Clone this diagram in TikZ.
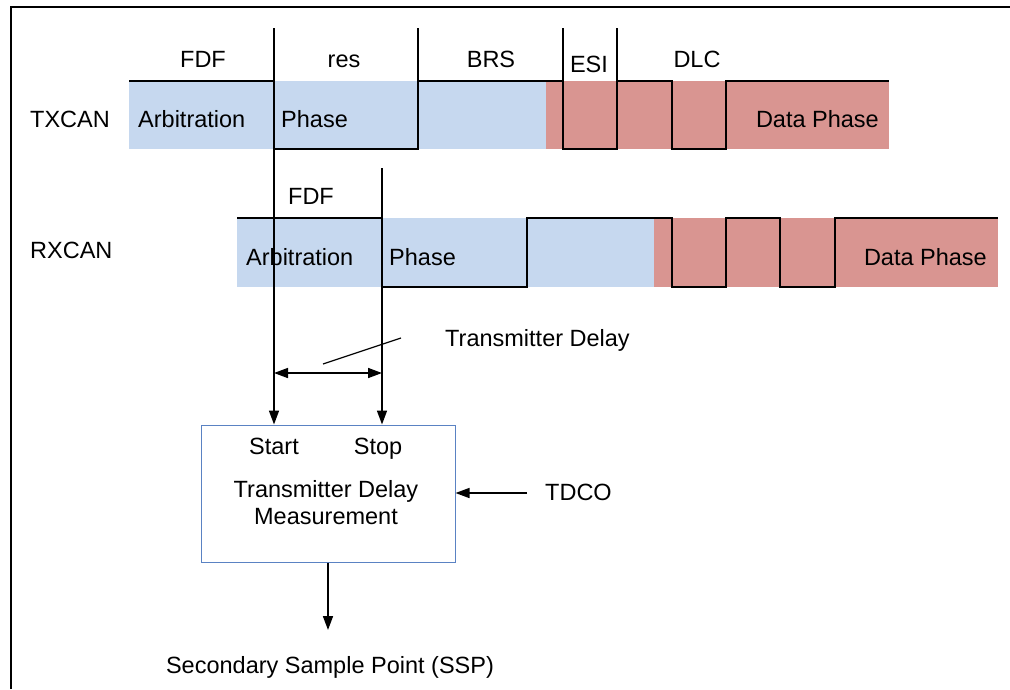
\documentclass[tikz,border=0pt]{standalone}
\usepackage{fontspec}
\setmainfont{Liberation Sans}
\usetikzlibrary{arrows.meta}
\definecolor{arbblue}{RGB}{198,216,239}
\definecolor{datared}{RGB}{217,149,145}
\definecolor{boxblue}{RGB}{90,130,195}

\begin{document}
\begin{tikzpicture}[x=1pt, y=-1pt, font=\fontsize{23.5}{28}\selectfont,
  sig/.style={line width=1.4pt},
  arr/.style={line width=1.6pt, -{Triangle[length=14pt,width=10pt]}},
  darr/.style={line width=1.6pt, {Triangle[length=14pt,width=10pt]}-{Triangle[length=14pt,width=10pt]}},
  lbl/.style={inner sep=0pt, anchor=base}]

 \useasboundingbox (0,0) rectangle (1010,689);
 \draw[line width=2.6pt] (11,689) -- (11,7) -- (1010,7);

 % TXCAN
 \fill[arbblue] (129,81) rectangle (546,149);
 \fill[datared] (546,81) rectangle (889,149);
 \draw[sig] (129,81) -- (274,81) -- (274,149) -- (418,149) -- (418,81) -- (563,81) -- (563,149)
   -- (617,149) -- (617,81) -- (672,81) -- (672,149) -- (726,149) -- (726,81) -- (889,81);
 \foreach \x in {418,563,617}
   \draw[sig] (\x,28) -- (\x,81);
 \foreach \x/\name/\y in {203/FDF/67, 344/res/67, 491/BRS/67, 589/ESI/72, 697/DLC/67}
   \node[lbl] (tx\name) at (\x,\y) {\name};

 \node[lbl, anchor=base west] (txcan) at (30,127) {TXCAN};
 \node[lbl, anchor=base west] (txarb) at (138,127) {Arbitration};
 \node[lbl, anchor=base west] (txphase) at (281,127) {Phase};
 \node[lbl, anchor=base east] (txdata) at (879,127) {Data Phase};

 % RXCAN
 \fill[arbblue] (237,218) rectangle (654,287);
 \fill[datared] (654,218) rectangle (998,287);
 \draw[sig] (237,218) -- (382,218) -- (382,287) -- (527,287) -- (527,218) -- (672,218) -- (672,287)
   -- (726,287) -- (726,218) -- (780,218) -- (780,287) -- (835,287) -- (835,218) -- (998,218);
 \node[lbl] (rxFDF) at (311,204) {FDF};

 \node[lbl, anchor=base west] (rxcan) at (30,258) {RXCAN};
 \node[lbl, anchor=base west] (rxarb) at (246,265) {Arbitration};
 \node[lbl, anchor=base west] (rxphase) at (389,265) {Phase};
 \node[lbl, anchor=base east] (rxdata) at (987,265) {Data Phase};

 % measurement block
 \node[draw=boxblue, line width=1pt, minimum width=254pt, minimum height=137pt, inner sep=0pt] (tdm) at (328,493.5) {};
 \node[lbl] (start) at (274,454) {Start};
 \node[lbl] (stop) at (378,454) {Stop};
 \node[lbl] (tdmline1) at (326,497) {Transmitter Delay};
 \node[lbl] (tdmline2) at (326,524) {Measurement};

 % start / stop lines
 \coordinate (txstart) at (274,28);
 \coordinate (rxstop) at (382,168);
 \draw[arr] (txstart) -- (txstart |- tdm.north);
 \draw[arr] (rxstop) -- (rxstop |- tdm.north);

 % delay
 \coordinate (dl) at (274,373);
 \coordinate (dr) at (382,373);
 \draw[darr] (dl) -- (dr);
 \node[lbl, anchor=base west] (delay) at (445,346) {Transmitter Delay};
 \coordinate (lead) at (323,364);
 \coordinate (leadend) at (401,338);
 \draw[line width=1.2pt] (lead) -- (leadend);

 % TDCO
 \node[lbl, anchor=base west] (tdco) at (545,500) {TDCO};
 \coordinate (tdcoin) at (527,493);
 \draw[arr] (tdcoin) -- (tdm.east |- tdcoin);

 % SSP
 \node[lbl] (ssp) at (330,673) {Secondary Sample Point (SSP)};
 \coordinate (sspin) at (328,630);
 \draw[arr] (tdm.south) -- (sspin);

\end{tikzpicture}
\end{document}
